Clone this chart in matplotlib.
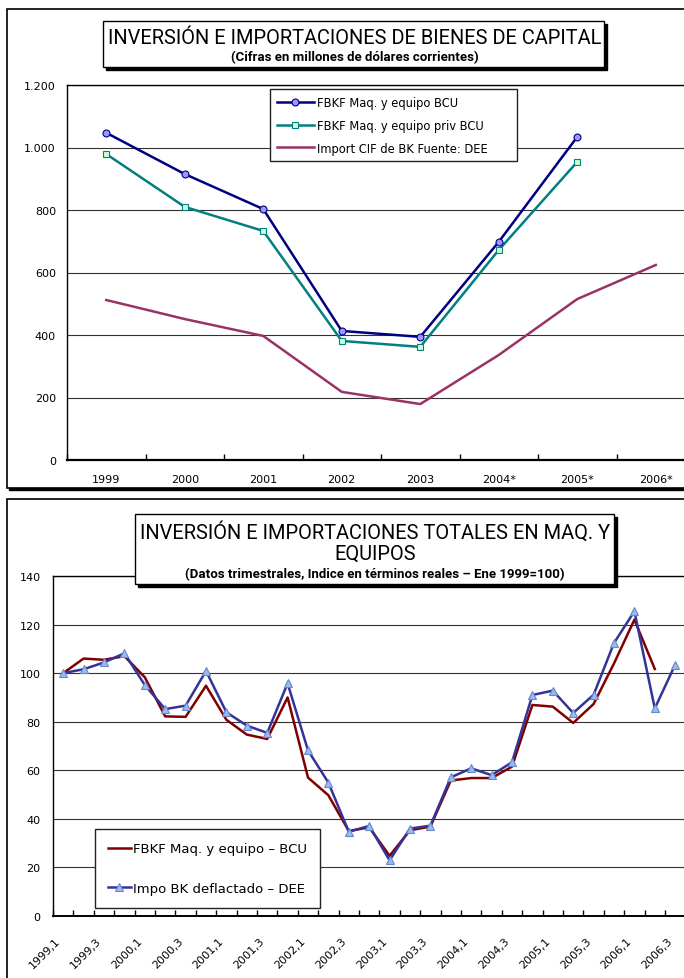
import matplotlib
matplotlib.use('Agg')
import matplotlib.pyplot as plt
import numpy as np
from matplotlib.patches import Rectangle
from matplotlib.ticker import FuncFormatter, FixedLocator
from matplotlib.transforms import ScaledTranslation

# ---- data: annual chart (millions of current dollars)
years = ['1999', '2000', '2001', '2002', '2003', '2004*', '2005*', '2006*']
fbkf_bcu = [1047, 915, 803, 413, 394, 698, 1034, None]
fbkf_priv = [979, 810, 733, 381, 362, 672, 954, None]
import_cif = [512, 451, 397, 218, 179, 336, 515, 624]

# ---- data: quarterly index (Ene 1999 = 100)
quarters = [f"{y},{q}" for y in range(1999, 2007) for q in range(1, 5)][:31]
fbkf_q = [100, 106, 105.5, 107, 98.3, 82.2, 82, 94.8, 80.8, 74.7, 72.9, 90,
          57, 49.7, 35, 36.5, 24.8, 35.3, 36.8, 55.8, 56.8, 56.8, 61.5,
          86.9, 86.2, 79.5, 87.3, 104, 122, 101.7, None]
impo_q = [100, 101.6, 104.4, 108.2, 95.1, 85.2, 86.6, 100.9, 83.9, 78.4, 75.4,
          95.8, 68.2, 54.9, 34.7, 37.1, 22.9, 36, 37.2, 57.1, 60.8, 58, 63.3,
          91, 92.8, 83.6, 91.1, 112.4, 125.5, 85.5, 103.5]

W, H = 684, 979
fig = plt.figure(figsize=(W / 100, H / 100), dpi=100)
plt.rcParams['font.family'] = ['DejaVu Sans']
title_font = ['Roboto', 'DejaVu Sans']


def box(x0, y0, x1, y1, shadow=3, lw=1.0, z=-1):
    # rectangle in pixel coords (y from top) with a black drop shadow
    sh = Rectangle(((x0 + shadow) / W, 1 - (y1 + shadow) / H), (x1 - x0) / W, (y1 - y0) / H,
                   transform=fig.transFigure, facecolor='black', edgecolor='black', zorder=z)
    bx = Rectangle((x0 / W, 1 - y1 / H), (x1 - x0) / W, (y1 - y0) / H,
                   transform=fig.transFigure, facecolor='white', edgecolor='black',
                   lw=lw, zorder=z + 0.1)
    fig.patches.extend([sh, bx])


# outer frames of both charts
box(7, 10, 720, 489, shadow=2, lw=1.2, z=-3)
box(7, 500, 720, 1010, shadow=2, lw=1.2, z=-3)

# ================= top chart =================
ax1 = fig.add_axes([67 / W, 1 - 461 / H, (8 * 78.5) / W, 375 / H])
ax1.set_facecolor('white')
x = np.arange(len(years))
ax1.plot(x, np.array(fbkf_priv, dtype=float), color='#008080', lw=1.8, marker='s', ms=5,
         mfc='#CCFFCC', mec='#008080', mew=0.8, label='FBKF Maq. y equipo priv BCU', zorder=3)
ax1.plot(x, np.array(fbkf_bcu, dtype=float), color='#000080', lw=1.8, marker='o', ms=5,
         mfc='#9999FF', mec='#000080', mew=0.8, label='FBKF Maq. y equipo BCU', zorder=4)
ax1.plot(x, import_cif, color='#993366', lw=1.8, label='Import CIF de BK Fuente: DEE', zorder=3)
ax1.set_xlim(-0.5, len(years) - 0.5)
ax1.set_ylim(0, 1200)
ax1.yaxis.set_major_locator(FixedLocator(range(0, 1201, 200)))
ax1.yaxis.set_major_formatter(FuncFormatter(lambda v, p: f"{int(v):,}".replace(',', '.')))
ax1.grid(axis='y', color='#333333', lw=0.8)
ax1.set_axisbelow(True)
ax1.set_xticks(x)
ax1.set_xticklabels(years)
ax1.set_xticks(np.arange(len(years) + 1) - 0.5, minor=True)
ax1.tick_params(axis='x', which='major', length=0, pad=10, labelsize=8)
ax1.tick_params(axis='x', which='minor', direction='in', length=4, width=1)
ax1.tick_params(axis='y', length=0, pad=8, labelsize=8)
for s in ax1.spines.values():
    s.set_color('black')
    s.set_linewidth(1.0)
ax1.spines['bottom'].set_linewidth(1.6)
h, l = ax1.get_legend_handles_labels()
order = [1, 0, 2]
leg1 = ax1.legend([h[i] for i in order], [l[i] for i in order], loc='upper left',
                  bbox_to_anchor=(270 / W, 1 - 90 / H), bbox_transform=fig.transFigure,
                  borderaxespad=0, fancybox=False, framealpha=1, edgecolor='#222222',
                  fontsize=8.3, handlelength=3.2, handletextpad=0.3, labelspacing=0.85,
                  borderpad=0.6)
# Excel leaves extra room on the right of the legend text
leg1._legend_box.align = 'left'
for t in leg1.get_texts():
    t.set_text(t.get_text() + '      ')

box(103, 22, 604, 68, shadow=3, lw=1.0, z=5)
fig.text(355 / W, 1 - 39 / H, 'INVERSIÓN E IMPORTACIONES DE BIENES DE CAPITAL',
         ha='center', va='center', fontsize=14.4, family=title_font, zorder=6)
fig.text(355 / W, 1 - 58 / H, '(Cifras en millones de dólares corrientes)',
         ha='center', va='center', fontsize=9.5, fontweight='bold', family=title_font, zorder=6)

# ================= bottom chart =================
step = 20.4
ax2 = fig.add_axes([53 / W, 1 - 917 / H, len(quarters) * step / W, 340 / H])
ax2.set_facecolor('white')
xq = np.arange(len(quarters))
ax2.plot(xq, np.array(fbkf_q, dtype=float), color='#800000', lw=1.8,
         label='FBKF Maq. y equipo – BCU', zorder=3)
ax2.plot(xq, impo_q, color='#333399', lw=1.8, marker='^', ms=6, mfc='#99BBEE',
         mec='#6688CC', mew=0.8, label='Impo BK deflactado – DEE', zorder=4)
ax2.set_xlim(-0.5, len(quarters) - 0.5)
ax2.set_ylim(0, 140)
ax2.yaxis.set_major_locator(FixedLocator(range(0, 141, 20)))
ax2.grid(axis='y', color='#333333', lw=0.8)
ax2.set_axisbelow(True)
ax2.set_xticks(xq[::2])
ax2.set_xticklabels(quarters[::2], rotation=45, ha='right', rotation_mode='anchor')
ax2.set_xticks(np.arange(len(quarters) + 1) - 0.5, minor=True)
ax2.tick_params(axis='x', which='major', length=0, pad=14, labelsize=8)
ax2.tick_params(axis='x', which='minor', direction='in', length=4, width=1)
ax2.tick_params(axis='y', length=0, pad=9, labelsize=8)
shift = ScaledTranslation(-8 / 100, 0, fig.dpi_scale_trans)
for lab in ax2.get_xticklabels():
    lab.set_transform(lab.get_transform() + shift)
for s in ax2.spines.values():
    s.set_color('black')
    s.set_linewidth(1.0)
ax2.spines['bottom'].set_linewidth(1.4)
ax2.legend(loc='upper left', bbox_to_anchor=(95 / W, 1 - 830 / H),
           bbox_transform=fig.transFigure, borderaxespad=0, fancybox=False,
           framealpha=1, edgecolor='#222222', fontsize=9.5, handlelength=1.7,
           handletextpad=0.2, labelspacing=2.0, borderpad=1.0)

box(135, 515, 614, 585, shadow=3, lw=1.0, z=5)
fig.text(375 / W, 1 - 532 / H, 'INVERSIÓN E IMPORTACIONES TOTALES EN MAQ. Y',
         ha='center', va='center', fontsize=14.4, family=title_font, zorder=6)
fig.text(375 / W, 1 - 554 / H, 'EQUIPOS',
         ha='center', va='center', fontsize=14.4, family=title_font, zorder=6)
fig.text(375 / W, 1 - 575 / H, '(Datos trimestrales, Indice en términos reales – Ene 1999=100)',
         ha='center', va='center', fontsize=9.5, fontweight='bold', family=title_font, zorder=6)

fig.savefig('out.png', dpi=100)
